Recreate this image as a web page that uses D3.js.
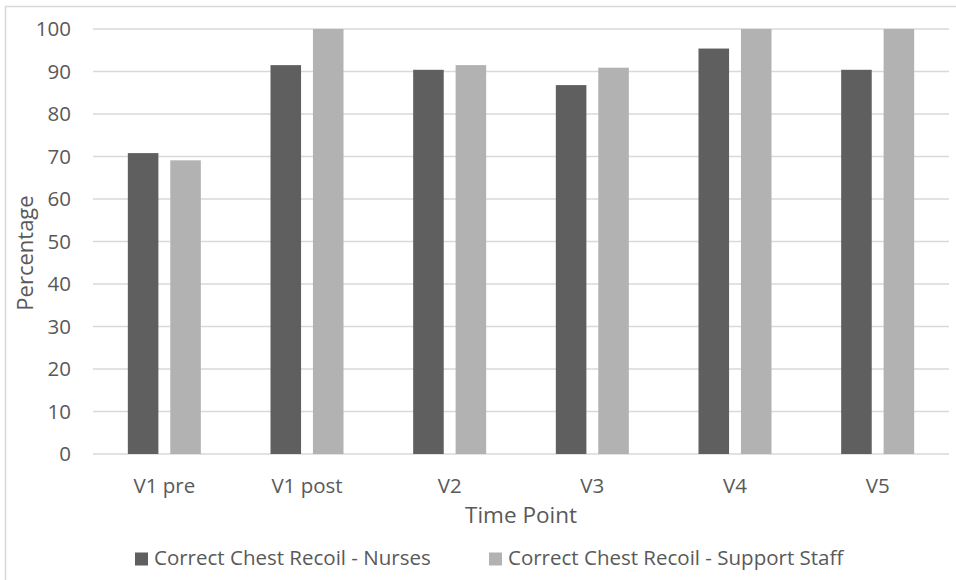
<!DOCTYPE html>
<html>
<head>
<meta charset="utf-8">
<script src="https://cdn.jsdelivr.net/npm/d3@7"></script>
<style>
  body { margin: 0; background: #fff; }
  text { font-family: "Open Sans", sans-serif; fill: #595959; }
</style>
</head>
<body>
<div id="chart"></div>
<script>
const categories = ['V1 pre', 'V1 post', 'V2', 'V3', 'V4', 'V5'];
const seriesNames = ['Correct Chest Recoil - Nurses', 'Correct Chest Recoil - Support Staff'];
const nurses = [70.8, 91.5, 90.4, 86.8, 95.4, 90.4];
const supportStaff = [69.1, 100, 91.5, 90.9, 100, 100];
const yTicks = [0, 10, 20, 30, 40, 50, 60, 70, 80, 90, 100];
const colors = ['#5f5f5f', '#b2b2b2'];

const W = 956, H = 580;
const margin = {top: 29, right: 7, bottom: 126, left: 93};
const w = W - margin.left - margin.right;
const h = H - margin.top - margin.bottom;

const svg = d3.select('#chart').append('svg')
  .attr('width', W)
  .attr('height', H);

// chart border
svg.append('rect')
  .attr('x', 5.5).attr('y', 6.5)
  .attr('width', W + 10).attr('height', H + 10)
  .attr('fill', 'none')
  .attr('stroke', '#d9d9d9')
  .attr('stroke-width', 1.5);

const g = svg.append('g')
  .attr('transform', `translate(${margin.left}, ${margin.top})`);

const x = d3.scaleBand().domain(categories).range([0, w]);
const inner = d3.scaleBand().domain([0, 1]).range([0, 73]).paddingInner(0.28);
const y = d3.scaleLinear().domain([0, 100]).range([h, 0]);

// gridlines
g.append('g')
  .selectAll('line')
  .data(yTicks)
  .join('line')
    .attr('x1', 0).attr('x2', w)
    .attr('y1', d => y(d)).attr('y2', d => y(d))
    .attr('stroke', '#d9d9d9')
    .attr('stroke-width', 1.5);

// y tick labels
const yAxis = g.append('g')
  .call(d3.axisLeft(y).tickValues(yTicks).tickSize(0).tickPadding(22));
yAxis.select('.domain').remove();
yAxis.selectAll('text')
  .style('font-size', '20.5px')
  .style('font-family', '"Open Sans", sans-serif')
  .attr('fill', '#595959');

// bars
const series = [nurses, supportStaff];
const groups = g.append('g')
  .selectAll('g')
  .data(categories)
  .join('g')
    .attr('transform', d => `translate(${x(d) + (x.bandwidth() - 73) / 2}, 0)`);

groups.selectAll('rect')
  .data((d, i) => series.map((s, k) => ({k, v: s[i]})))
  .join('rect')
    .attr('x', d => inner(d.k))
    .attr('width', inner.bandwidth())
    .attr('y', d => y(d.v))
    .attr('height', d => h - y(d.v))
    .attr('fill', d => colors[d.k]);

// x axis labels
const xAxis = g.append('g')
  .attr('transform', `translate(0, ${h})`)
  .call(d3.axisBottom(x).tickSize(0).tickPadding(24));
xAxis.select('.domain').remove();
xAxis.selectAll('text')
  .style('font-size', '20.5px')
  .style('font-family', '"Open Sans", sans-serif')
  .attr('fill', '#595959');

// axis titles
svg.append('text')
  .attr('x', margin.left + w / 2)
  .attr('y', 523)
  .attr('text-anchor', 'middle')
  .style('font-size', '22.5px')
  .text('Time Point');

svg.append('text')
  .attr('transform', 'translate(33, 253) rotate(-90)')
  .attr('text-anchor', 'middle')
  .style('font-size', '22px')
  .text('Percentage');

// legend
const legendX = [135, 489];
const legend = svg.append('g')
  .selectAll('g')
  .data(seriesNames)
  .join('g')
    .attr('transform', (d, i) => `translate(${legendX[i]}, 565)`);
legend.append('rect')
  .attr('x', 0).attr('y', -12.5)
  .attr('width', 13).attr('height', 13)
  .attr('fill', (d, i) => colors[i]);
legend.append('text')
  .attr('x', 19)
  .attr('y', 0)
  .style('font-size', '20.5px')
  .text(d => d);
</script>
</body>
</html>
